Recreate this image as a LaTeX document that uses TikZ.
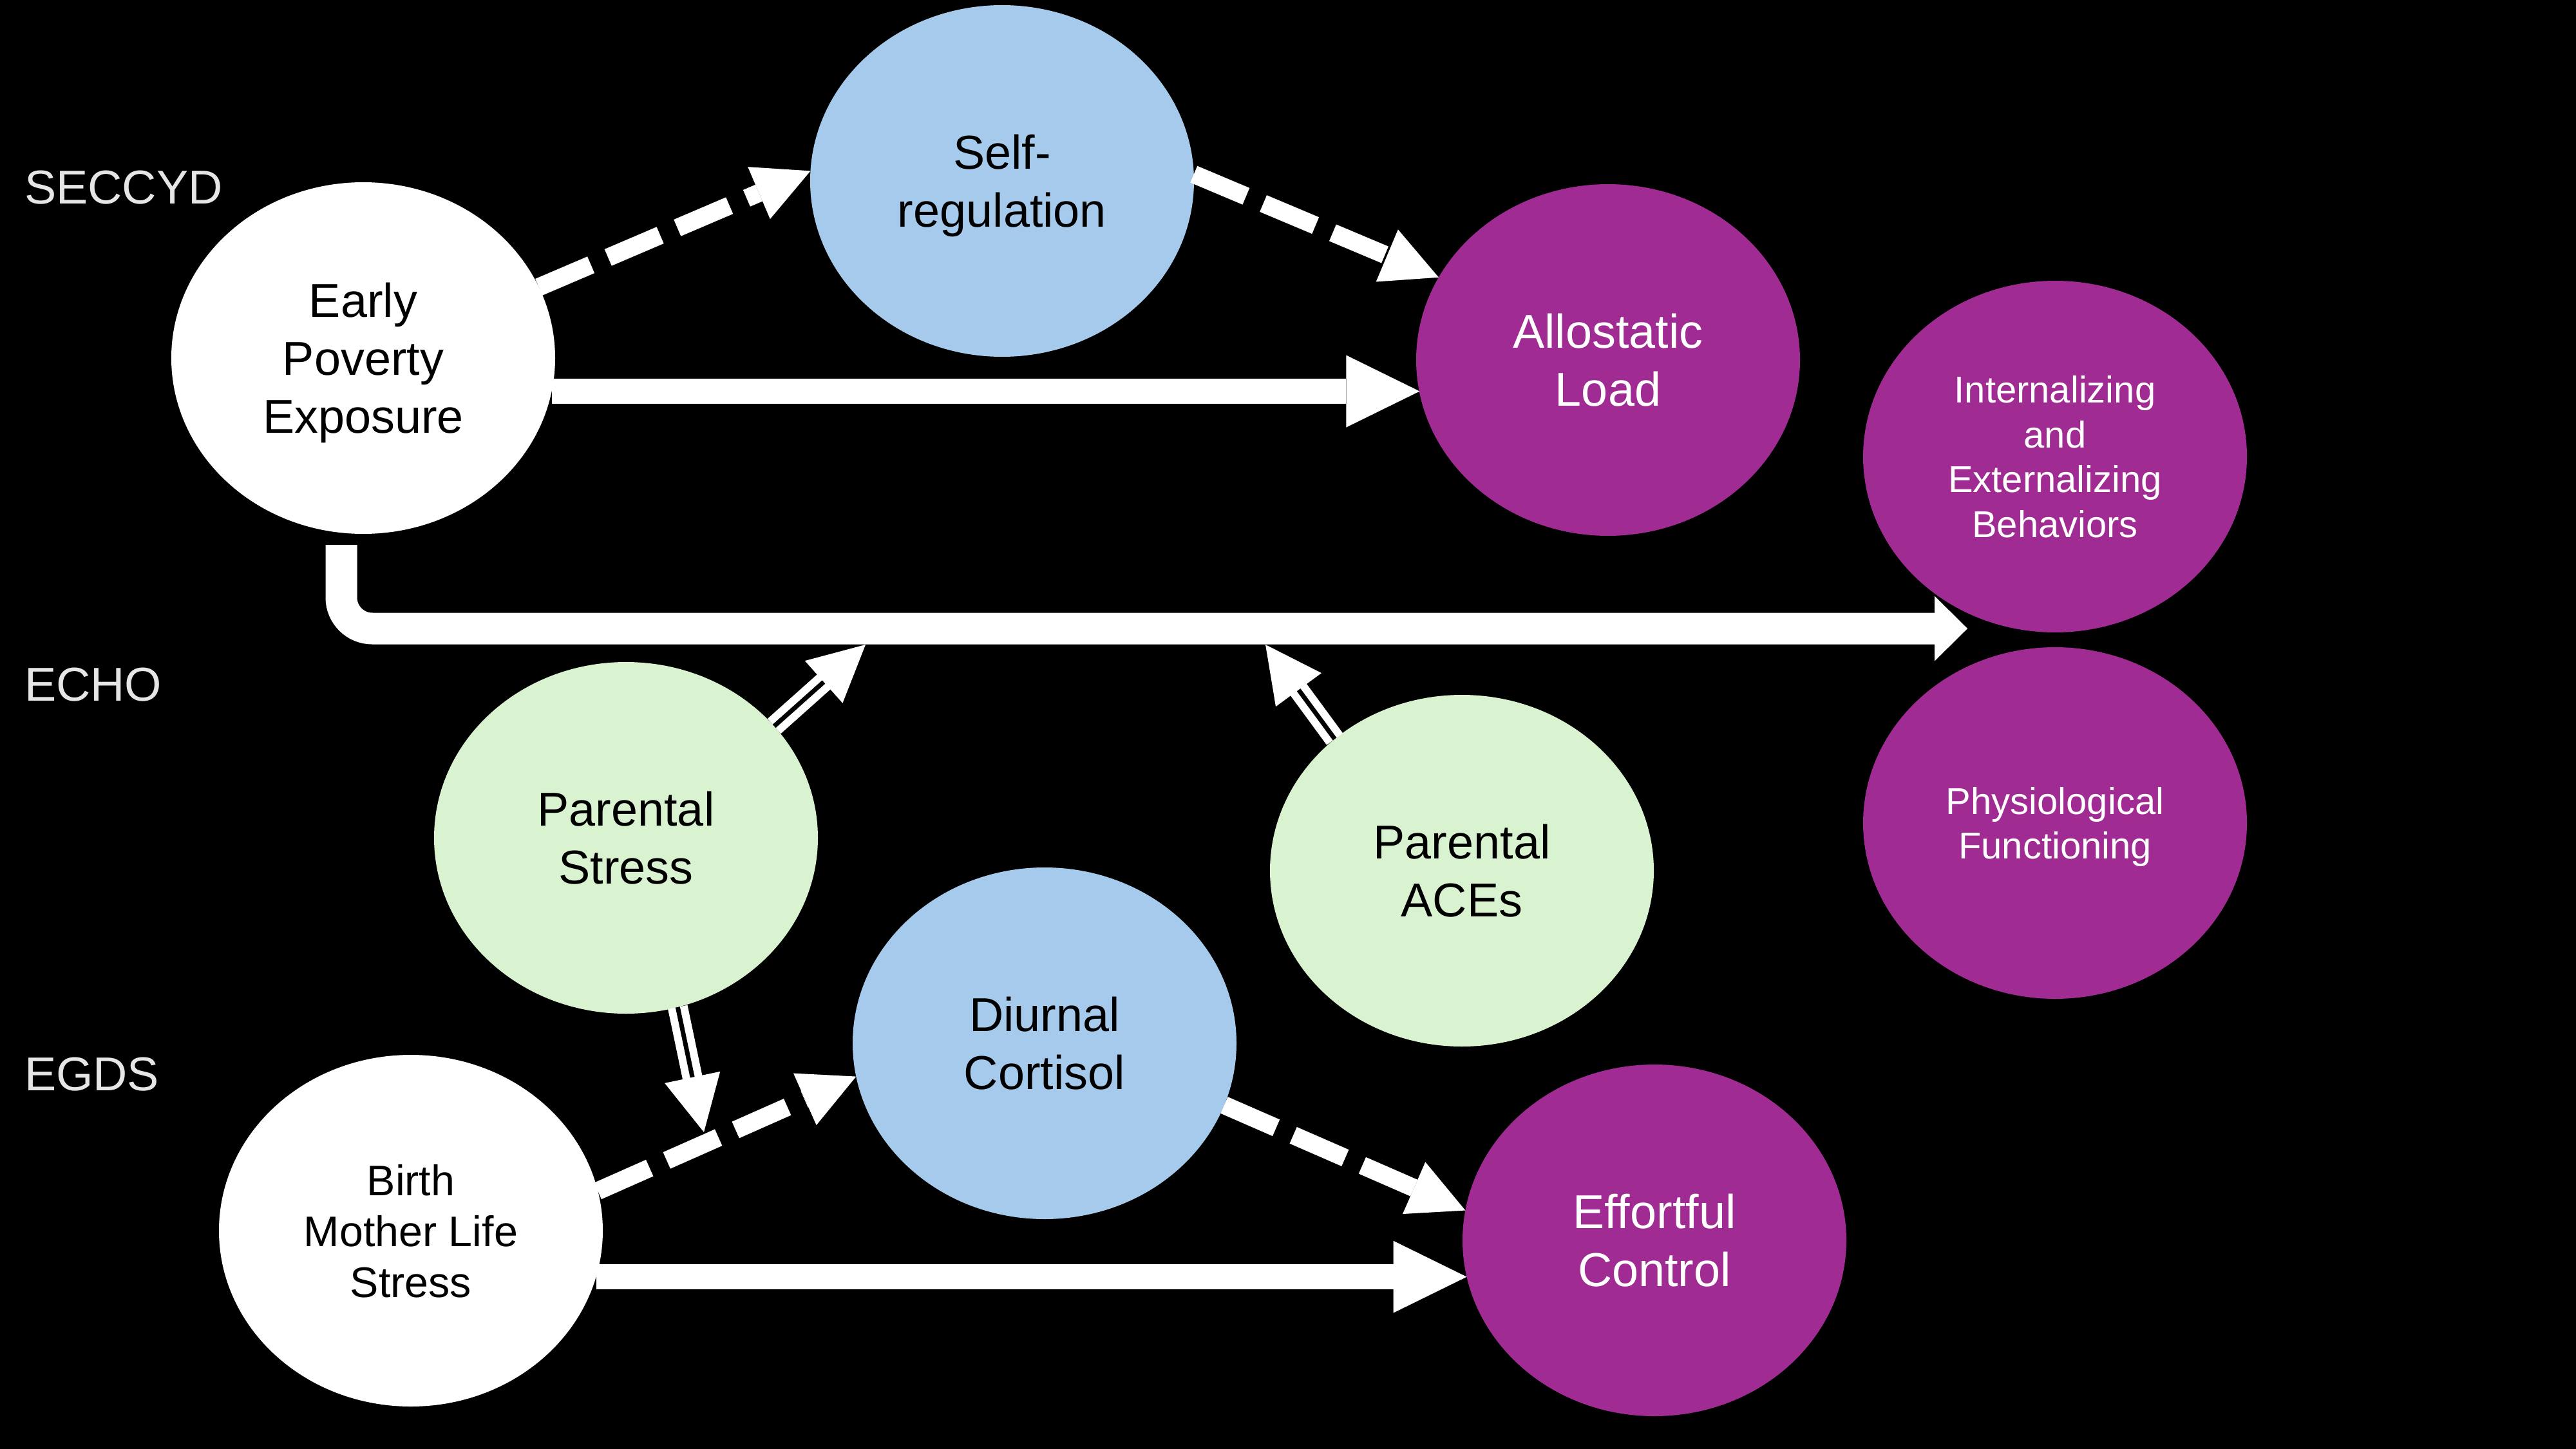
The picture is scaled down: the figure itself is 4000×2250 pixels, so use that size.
\documentclass[tikz,border=0pt]{standalone}
\usepackage{fontspec}
\setmainfont{Liberation Sans}
\usetikzlibrary{shapes.geometric,arrows.meta,calc}
\definecolor{cblue}{HTML}{A6CAEC}
\definecolor{cgreen}{HTML}{D9F2D0}
\definecolor{cpurple}{HTML}{A02B93}
\definecolor{clabel}{HTML}{E6E6E6}
\tikzset{
  oval/.style={ellipse, minimum width=59.6mm, minimum height=54.6mm, inner sep=0pt, outer sep=0pt,
    align=center, font=\fontsize{21}{25.6}\selectfont, text=black, text depth=0pt},
  ovpurple/.style={oval, fill=cpurple, text=white},
  smalltext/.style={font=\fontsize{16.5}{19.9}\selectfont},
  midtext/.style={font=\fontsize{18.9}{22.5}\selectfont},
  studylab/.style={anchor=base west, inner sep=0pt, outer sep=0pt, text=clabel, font=\fontsize{21}{25}\selectfont},
  dsh/.style={draw=white, line width=2.8mm, dash pattern=on 8.8mm off 2.9mm,
    -{Triangle[length=8.7mm,width=8.8mm,line width=0pt]}},
  sol/.style={draw=white, line width=3.9mm, -{Triangle[length=11.4mm,width=11.2mm,line width=0pt]}},
  elb/.style={draw=white, line width=4.9mm, rounded corners=4.8mm,
    -{Triangle[length=5.1mm,width=10.1mm,line width=0pt]}},
  dbl/.style={draw=white, line width=1.2mm, double=black, double distance=0.7mm, shorten >=8mm},
  hd/.style={draw=white, line width=0.2mm, -{Triangle[length=8.7mm,width=8.8mm,line width=0pt]}}
}
\begin{document}
\begin{tikzpicture}[x=0.1mm,y=-0.1mm]
\fill[black] (0,0) rectangle (4000,2250);
\useasboundingbox (0,0) rectangle (4000,2250);

% study labels
\node[studylab] (lab1) at (38,317) {SECCYD};
\node[studylab] (lab2) at (38,1088) {ECHO};
\node[studylab] (lab3) at (38,1693) {EGDS};

% nodes
\node[oval, fill=white] (ep) at (564,556) {Early\\Poverty\\Exposure};
\node[oval, fill=cblue] (sr) at (1556,281) {Self-\\regulation};
\node[ovpurple] (al) at (2497,559) {Allostatic\\Load};
\node[ovpurple, smalltext] (ie) at (3191,709) {Internalizing\\and\\Externalizing\\Behaviors};
\node[ovpurple, smalltext] (pf) at (3191,1278) {Physiological\\Functioning};
\node[oval, fill=cgreen] (ps) at (972,1301) {Parental\\Stress};
\node[oval, fill=cgreen] (pa) at (2270,1352) {Parental\\ACEs};
\node[oval, fill=cblue] (dc) at (1622,1620) {Diurnal\\Cortisol};
\node[oval, fill=white, midtext] (bm) at (638,1911) {Birth\\Mother Life\\Stress};
\node[ovpurple] (ec) at (2569,1926) {Effortful\\Control};

% free ends
\coordinate (eS) at ($(ep.south)+(-34,17)$);
\coordinate (eE) at (3055,976);
\coordinate (t1) at (1344,1001);
\coordinate (t2) at (1965,1001);
\coordinate (t3) at (1093,1758);

% SECCYD
\draw[dsh] (ep.22.4) -- (sr.177.3);
\draw[dsh] (sr.2.7) -- (al.154.7);
\draw[sol] (ep.-10.6) -- (al.190.4 |- ep.-10.6);

% elbow to outcomes
\draw[elb] (eS) |- (eE);

% ECHO double arrows
\draw[dbl] (ps.37) -- (t1);
\draw[hd] ($(t1)!8.7mm!(ps.37)$) -- (t1);
\draw[dbl] (pa.134.4) -- (t2);
\draw[hd] ($(t2)!8.7mm!(pa.134.4)$) -- (t2);
\draw[dbl] (ps.-73.4) -- (t3);
\draw[hd] ($(t3)!8.7mm!(ps.-73.4)$) -- (t3);

% EGDS
\draw[dsh] (bm.12.2) -- (dc.190);
\draw[dsh] (dc.-19.7) -- (ec.171);
\draw[sol] (bm.-14.7) -- (ec.191.6 |- bm.-14.7);
\end{tikzpicture}
\end{document}
